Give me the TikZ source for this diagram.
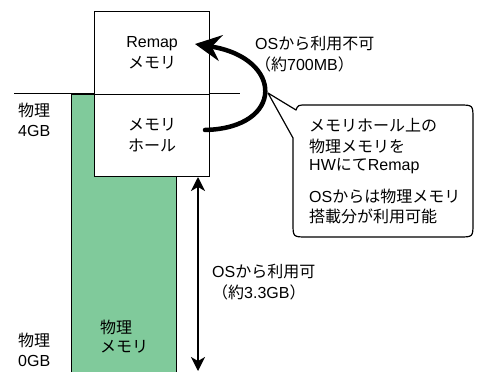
\documentclass[tikz,border=0pt]{standalone}
\usepackage{fontspec}
\setmainfont{Liberation Sans}
\newfontfamily\jpf{Noto Sans CJK JP}
\newcommand{\J}[1]{{\jpf #1}}
\usetikzlibrary{arrows.meta}
\definecolor{memgreen}{HTML}{80CA9B}
\begin{document}
\begin{tikzpicture}[x=1pt,y=-1pt,
  lbl/.style={font=\fontsize{16}{21}\selectfont, inner sep=0pt, anchor=west},
  membox/.style={draw, line width=1.2pt, fill=white, inner sep=0pt, align=center,
    font=\fontsize{16}{21}\selectfont, minimum width=115pt, minimum height=82.5pt, anchor=north west},
  greenbox/.style={draw, line width=1.2pt, fill=memgreen, inner sep=0pt,
    minimum width=105pt, minimum height=300pt, anchor=north west},
  thin/.style={line width=1.2pt},
  dblarrow/.style={line width=1.5pt, {Stealth[length=14pt,width=14pt,inset=4pt]}-{Stealth[length=14pt,width=14pt,inset=4pt]}},
  bigarrow/.style={line width=4.5pt, line cap=round, -{Stealth[length=26pt,width=26pt,inset=9pt]}}
]
\useasboundingbox (0,0) rectangle (477,372);
% physical memory column
\node[greenbox] (phys) at (70.5,93.5) {};
% boundary line at 4GB
\coordinate (lineL) at (14,93.5);
\coordinate (lineR) at (240,93.5);
\draw[thin] (lineL) -- (lineR);
% boxes
\node[membox] (remap) at (94,11) {Remap\\\J{メモリ}};
\node[membox] (hole) at (94,93.5) {\J{メモリ}\\\J{ホール}};
% left labels
\node[lbl] (p4a) at (18,110) {\J{物理}};
\node[lbl] (p4b) at (18,131) {4GB};
\node[lbl] (p0a) at (18,340) {\J{物理}};
\node[lbl] (p0b) at (18,361) {0GB};
\node[lbl] (pma) at (100,327) {\J{物理}};
\node[lbl] (pmb) at (100,347) {\J{メモリ}};
% usable range arrow
\coordinate (atop) at (198,177);
\coordinate (abot) at (198,371);
\draw[dblarrow] (atop) -- (abot);
\node[lbl] (usea) at (212,272) {OS\J{から利用可}};
\node[lbl] (useb) at (212,292) {\J{（約}3.3GB\J{）}};
% remap curved arrow
\coordinate (ctail) at (205,130);
\coordinate (chead) at (195,44);
\draw[bigarrow] (ctail) .. controls (285,128) and (284,58) .. (chead);
\node[lbl] (nua) at (255,44) {OS\J{から利用不可}};
\node[lbl] (nub) at (255,64) {\J{（約}700MB\J{）}};
% callout
\draw[thin, line join=round] (293,138) -- (268,93) -- (296,110)
  .. controls (298,105) .. (307,105) -- (459,105)
  .. controls (473,105) .. (473,119) -- (473,223)
  .. controls (473,237) .. (459,237) -- (307,237)
  .. controls (293,237) .. (293,223) -- cycle;
\node[lbl] (c1) at (309,125) {\J{メモリホール上の}};
\node[lbl] (c2) at (309,146) {\J{物理メモリを}};
\node[lbl] (c3) at (309,166) {HW\J{にて}Remap};
\node[lbl] (c4) at (309,196) {OS\J{からは物理メモリ}};
\node[lbl] (c5) at (309,216) {\J{搭載分が利用可能}};
\end{tikzpicture}
\end{document}
